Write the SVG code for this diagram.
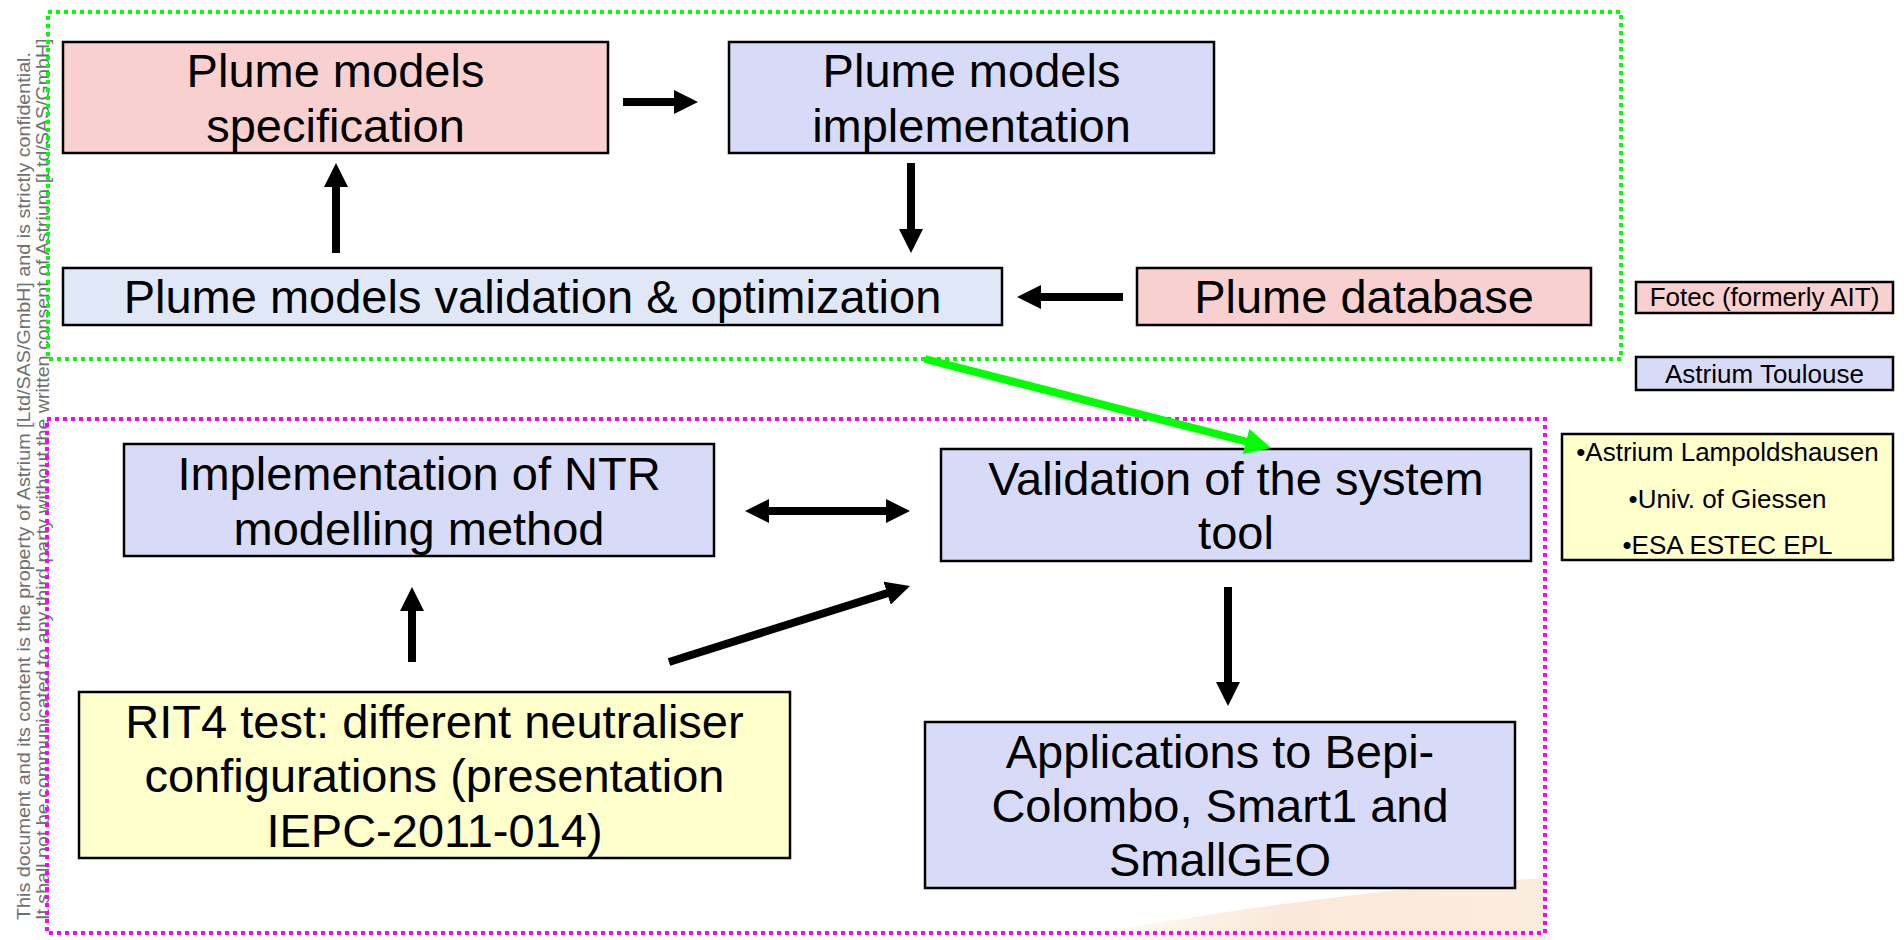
<svg xmlns="http://www.w3.org/2000/svg" width="1904" height="940" viewBox="0 0 1904 940">
<style>
.box{stroke:#000;stroke-width:2.5}
.pink{fill:#f8d0d0}
.lav{fill:#d8dbf8}
.lblue{fill:#e0e8f8}
.yel{fill:#ffffcc}
.t{font-family:"Liberation Sans",Arial,sans-serif;font-size:47px;fill:#000;text-anchor:middle}
.s{font-family:"Liberation Sans",Arial,sans-serif;font-size:26px;fill:#000;text-anchor:middle}
.wm{font-family:"Liberation Sans",Arial,sans-serif;font-size:18px;fill:#707070}
.dot{fill:none;stroke-width:4;stroke-dasharray:4 4}
.arr{stroke:#000;stroke-width:8;fill:none}
</style>
<defs>
<marker id="ah" markerUnits="userSpaceOnUse" markerWidth="24" markerHeight="24" refX="2" refY="12" orient="auto-start-reverse" viewBox="0 0 24 24">
<path d="M0,0 L24,12 L0,24 Z" fill="#000"/>
</marker>
<marker id="ahg" markerUnits="userSpaceOnUse" markerWidth="26" markerHeight="26" refX="2" refY="13" orient="auto" viewBox="0 0 26 26">
<path d="M0,0 L26,13 L0,26 Z" fill="#00ff00"/>
</marker>
<linearGradient id="sw" x1="0" y1="0" x2="1" y2="0">
<stop offset="0" stop-color="#f3c9a2" stop-opacity="0"/>
<stop offset="0.45" stop-color="#f3c9a2" stop-opacity="0.4"/>
<stop offset="1" stop-color="#f3c9a2" stop-opacity="0.35"/>
</linearGradient>
</defs>
<rect width="1904" height="940" fill="#fff"/>
<path id="swoosh" d="M1060,940 C1240,906 1410,886 1545,878 L1545,940 Z" fill="url(#sw)"/>
<g id="watermark">
<text class="wm" transform="translate(30,920) rotate(-90)" textLength="868" lengthAdjust="spacingAndGlyphs">This document and its content is the property of Astrium [Ltd/SAS/GmbH] and is strictly confidential.</text>
<text class="wm" transform="translate(49,920) rotate(-90)" textLength="887" lengthAdjust="spacingAndGlyphs">It shall not be communicated to any third party without the written consent of Astrium [Ltd/SAS/GmbH].</text>
</g>
<g id="group-plume">
<rect class="dot" x="48" y="12" width="1573" height="347" stroke="#00ff00"/>
</g>
<g id="group-system">
<rect class="dot" x="47" y="419" width="1498" height="514" stroke="#ff00ff"/>
</g>
<g id="n-spec">
<rect class="box pink" x="63" y="42" width="545" height="111"/>
<text class="t" x="335.5" y="87">Plume models</text>
<text class="t" x="335.5" y="142">specification</text>
</g>
<g id="n-impl">
<rect class="box lav" x="729" y="42" width="485" height="111"/>
<text class="t" x="971.5" y="87">Plume models</text>
<text class="t" x="971.5" y="142">implementation</text>
</g>
<g id="n-valopt">
<rect class="box lblue" x="63" y="268" width="939" height="57"/>
<text class="t" x="532.5" y="313">Plume models validation &amp; optimization</text>
</g>
<g id="n-db">
<rect class="box pink" x="1137" y="268" width="454" height="57"/>
<text class="t" x="1364" y="313">Plume database</text>
</g>
<g id="n-ntr">
<rect class="box lav" x="124" y="444" width="590" height="112"/>
<text class="t" x="419" y="490">Implementation of NTR</text>
<text class="t" x="419" y="545">modelling method</text>
</g>
<g id="n-valsys">
<rect class="box lav" x="941" y="449" width="590" height="112"/>
<text class="t" x="1236" y="495">Validation of the system</text>
<text class="t" x="1236" y="549">tool</text>
</g>
<g id="n-rit4">
<rect class="box yel" x="79" y="692" width="711" height="166"/>
<text class="t" x="434.5" y="738">RIT4 test: different neutraliser</text>
<text class="t" x="434.5" y="792">configurations (presentation</text>
<text class="t" x="434.5" y="847">IEPC-2011-014)</text>
</g>
<g id="n-app">
<rect class="box lav" x="925" y="722" width="590" height="166"/>
<text class="t" x="1220" y="768">Applications to Bepi-</text>
<text class="t" x="1220" y="822">Colombo, Smart1 and</text>
<text class="t" x="1220" y="876">SmallGEO</text>
</g>
<g id="legend-fotec">
<rect class="box pink" x="1636" y="282" width="257" height="31"/>
<text class="s" x="1764.5" y="306">Fotec (formerly AIT)</text>
</g>
<g id="legend-toulouse">
<rect class="box lav" x="1636" y="357" width="257" height="33"/>
<text class="s" x="1764.5" y="383">Astrium Toulouse</text>
</g>
<g id="legend-others">
<rect class="box yel" x="1562" y="434" width="331" height="126"/>
<text class="s" x="1727.5" y="461">•Astrium Lampoldshausen</text>
<text class="s" x="1727.5" y="508">•Univ. of Giessen</text>
<text class="s" x="1727.5" y="554">•ESA ESTEC EPL</text>
</g>
<g id="connectors">
<line class="arr" x1="623" y1="102" x2="676" y2="102" marker-end="url(#ah)"/>
<line class="arr" x1="911" y1="163" x2="911" y2="231" marker-end="url(#ah)"/>
<line class="arr" x1="336" y1="253" x2="336" y2="185" marker-end="url(#ah)"/>
<line class="arr" x1="1123" y1="297" x2="1039" y2="297" marker-end="url(#ah)"/>
<line x1="925" y1="359" x2="1248" y2="442" stroke="#00ff00" stroke-width="8" marker-end="url(#ahg)"/>
<line class="arr" x1="767" y1="511" x2="888" y2="511" marker-start="url(#ah)" marker-end="url(#ah)"/>
<line class="arr" x1="412" y1="662" x2="412" y2="609" marker-end="url(#ah)"/>
<line class="arr" x1="669" y1="662" x2="889" y2="592.6" marker-end="url(#ah)"/>
<line class="arr" x1="1228" y1="587" x2="1228" y2="684" marker-end="url(#ah)"/>
</g>
</svg>
